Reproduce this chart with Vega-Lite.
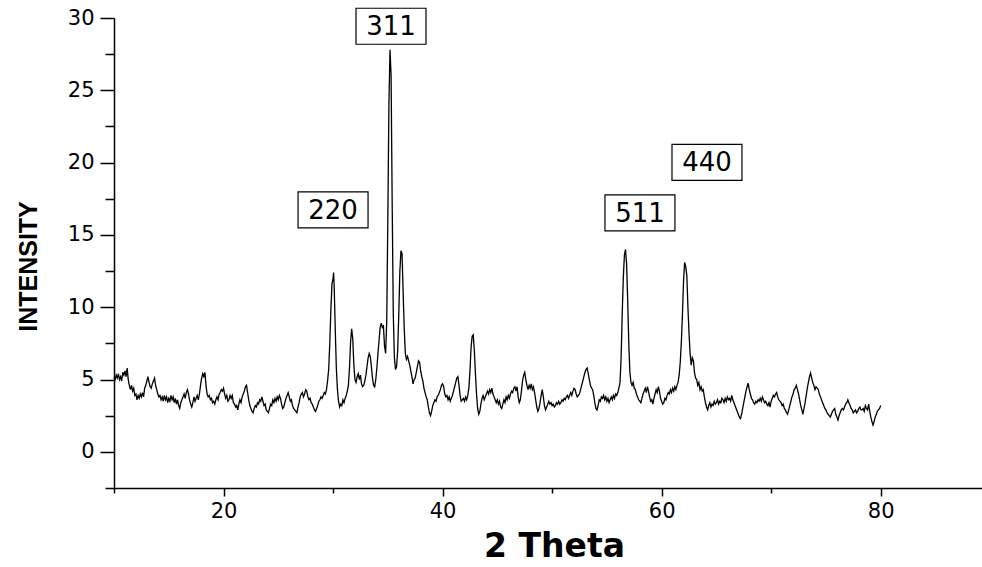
{
"$schema":"https://vega.github.io/schema/vega-lite/v6.json",
"width":868,"height":470,
"autosize":{"type":"none"},
"padding":{"left":114,"top":18,"right":0,"bottom":79},
"background":"white",
"config":{"view":{"stroke":null}},
"datasets":{
"peaks":[{"t":35.29,"i":29.43,"label":"311"},{"t":30.0,"i":16.73,"label":"220"},{"t":58.02,"i":16.52,"label":"511"},{"t":64.14,"i":20.02,"label":"440"}],
"xrd":[
{"t":10.0,"i":5.2},{"t":10.1,"i":5.0},{"t":10.2,"i":5.3},{"t":10.3,"i":5.1},{"t":10.4,"i":5.4},{"t":10.5,"i":5.0},{"t":10.6,"i":5.2},{"t":10.7,"i":4.9},{"t":10.8,"i":5.5},{"t":10.9,"i":5.3},
{"t":11.0,"i":5.6},{"t":11.1,"i":5.2},{"t":11.2,"i":5.8},{"t":11.3,"i":5.0},{"t":11.4,"i":4.6},{"t":11.5,"i":4.3},{"t":11.6,"i":4.6},{"t":11.7,"i":4.2},{"t":11.8,"i":4.4},{"t":11.9,"i":3.9},
{"t":12.0,"i":4.0},{"t":12.1,"i":3.6},{"t":12.2,"i":3.9},{"t":12.3,"i":3.7},{"t":12.4,"i":4.0},{"t":12.5,"i":3.8},{"t":12.6,"i":4.1},{"t":12.7,"i":3.8},{"t":12.8,"i":4.4},{"t":12.9,"i":4.6},
{"t":13.0,"i":4.9},{"t":13.1,"i":5.2},{"t":13.2,"i":4.8},{"t":13.3,"i":4.5},{"t":13.4,"i":4.4},{"t":13.5,"i":4.7},{"t":13.6,"i":4.9},{"t":13.7,"i":5.1},{"t":13.8,"i":4.6},{"t":13.9,"i":4.3},
{"t":14.0,"i":4.0},{"t":14.1,"i":3.8},{"t":14.2,"i":3.9},{"t":14.3,"i":3.6},{"t":14.4,"i":3.8},{"t":14.5,"i":3.5},{"t":14.6,"i":3.9},{"t":14.7,"i":3.6},{"t":14.8,"i":3.8},{"t":14.9,"i":3.4},
{"t":15.0,"i":3.7},{"t":15.1,"i":3.5},{"t":15.2,"i":3.9},{"t":15.3,"i":3.6},{"t":15.4,"i":3.8},{"t":15.5,"i":3.4},{"t":15.6,"i":3.7},{"t":15.7,"i":3.3},{"t":15.8,"i":3.6},{"t":15.9,"i":3.2},
{"t":16.0,"i":3.0},{"t":16.1,"i":3.4},{"t":16.2,"i":3.6},{"t":16.3,"i":3.8},{"t":16.4,"i":4.0},{"t":16.5,"i":3.7},{"t":16.6,"i":4.1},{"t":16.7,"i":4.3},{"t":16.8,"i":4.0},{"t":16.9,"i":3.6},
{"t":17.0,"i":3.3},{"t":17.1,"i":3.1},{"t":17.2,"i":3.4},{"t":17.3,"i":3.8},{"t":17.4,"i":3.5},{"t":17.5,"i":3.7},{"t":17.6,"i":3.9},{"t":17.7,"i":3.6},{"t":17.8,"i":4.0},{"t":17.9,"i":4.6},
{"t":18.0,"i":5.1},{"t":18.1,"i":5.4},{"t":18.2,"i":5.2},{"t":18.3,"i":5.5},{"t":18.4,"i":4.6},{"t":18.5,"i":4.0},{"t":18.6,"i":3.8},{"t":18.7,"i":3.9},{"t":18.8,"i":3.6},{"t":18.9,"i":3.7},
{"t":19.0,"i":3.4},{"t":19.1,"i":3.5},{"t":19.2,"i":3.3},{"t":19.3,"i":3.6},{"t":19.4,"i":3.8},{"t":19.5,"i":3.6},{"t":19.6,"i":4.0},{"t":19.7,"i":4.1},{"t":19.8,"i":4.3},{"t":19.9,"i":4.2},
{"t":20.0,"i":4.4},{"t":20.1,"i":4.0},{"t":20.2,"i":3.7},{"t":20.3,"i":3.9},{"t":20.4,"i":3.5},{"t":20.5,"i":3.6},{"t":20.6,"i":3.9},{"t":20.7,"i":3.7},{"t":20.8,"i":3.9},{"t":20.9,"i":3.4},
{"t":21.0,"i":3.3},{"t":21.1,"i":3.1},{"t":21.2,"i":3.2},{"t":21.3,"i":2.9},{"t":21.4,"i":3.3},{"t":21.5,"i":3.6},{"t":21.6,"i":3.4},{"t":21.7,"i":3.8},{"t":21.8,"i":4.0},{"t":21.9,"i":4.2},
{"t":22.0,"i":4.5},{"t":22.1,"i":4.6},{"t":22.2,"i":4.1},{"t":22.3,"i":3.6},{"t":22.4,"i":3.2},{"t":22.5,"i":3.0},{"t":22.6,"i":2.8},{"t":22.7,"i":2.7},{"t":22.8,"i":3.0},{"t":22.9,"i":3.2},
{"t":23.0,"i":3.1},{"t":23.1,"i":3.4},{"t":23.2,"i":3.3},{"t":23.3,"i":3.6},{"t":23.4,"i":3.5},{"t":23.5,"i":3.8},{"t":23.6,"i":3.5},{"t":23.7,"i":3.2},{"t":23.8,"i":3.3},{"t":23.9,"i":2.9},
{"t":24.0,"i":2.8},{"t":24.1,"i":2.7},{"t":24.2,"i":3.0},{"t":24.3,"i":3.3},{"t":24.4,"i":3.2},{"t":24.5,"i":3.6},{"t":24.6,"i":3.4},{"t":24.7,"i":3.7},{"t":24.8,"i":3.5},{"t":24.9,"i":3.8},
{"t":25.0,"i":3.6},{"t":25.1,"i":3.9},{"t":25.2,"i":3.7},{"t":25.3,"i":3.3},{"t":25.4,"i":3.0},{"t":25.5,"i":3.1},{"t":25.6,"i":3.4},{"t":25.7,"i":3.7},{"t":25.8,"i":3.9},{"t":25.9,"i":4.1},
{"t":26.0,"i":3.8},{"t":26.1,"i":3.5},{"t":26.2,"i":3.6},{"t":26.3,"i":3.2},{"t":26.4,"i":3.0},{"t":26.5,"i":2.9},{"t":26.6,"i":2.8},{"t":26.7,"i":2.7},{"t":26.8,"i":3.1},{"t":26.9,"i":3.4},
{"t":27.0,"i":3.8},{"t":27.1,"i":4.0},{"t":27.2,"i":4.1},{"t":27.3,"i":3.8},{"t":27.4,"i":4.0},{"t":27.5,"i":4.3},{"t":27.6,"i":4.2},{"t":27.7,"i":3.8},{"t":27.8,"i":3.6},{"t":27.9,"i":3.7},
{"t":28.0,"i":3.4},{"t":28.1,"i":3.3},{"t":28.2,"i":3.1},{"t":28.3,"i":2.9},{"t":28.4,"i":2.8},{"t":28.5,"i":3.0},{"t":28.6,"i":3.2},{"t":28.7,"i":3.5},{"t":28.8,"i":3.6},{"t":28.9,"i":3.8},
{"t":29.0,"i":3.7},{"t":29.1,"i":3.9},{"t":29.2,"i":4.1},{"t":29.3,"i":4.0},{"t":29.4,"i":4.3},{"t":29.5,"i":4.9},{"t":29.6,"i":5.7},{"t":29.7,"i":7.5},{"t":29.8,"i":9.8},{"t":29.9,"i":11.6},
{"t":30.0,"i":12.0},{"t":30.05,"i":12.4},{"t":30.1,"i":11.5},{"t":30.2,"i":8.5},{"t":30.3,"i":5.8},{"t":30.4,"i":4.3},{"t":30.5,"i":3.5},{"t":30.6,"i":3.1},{"t":30.7,"i":3.3},{"t":30.8,"i":3.2},{"t":30.9,"i":3.6},
{"t":31.0,"i":3.4},{"t":31.1,"i":3.7},{"t":31.2,"i":3.9},{"t":31.3,"i":4.2},{"t":31.4,"i":4.6},{"t":31.5,"i":5.8},{"t":31.6,"i":7.6},{"t":31.7,"i":8.5},{"t":31.8,"i":7.8},{"t":31.9,"i":6.0},
{"t":32.0,"i":5.0},{"t":32.1,"i":4.8},{"t":32.2,"i":5.2},{"t":32.3,"i":5.4},{"t":32.4,"i":5.0},{"t":32.5,"i":5.3},{"t":32.6,"i":4.7},{"t":32.7,"i":4.5},{"t":32.8,"i":4.6},{"t":32.9,"i":4.9},
{"t":33.0,"i":5.3},{"t":33.1,"i":5.9},{"t":33.2,"i":6.5},{"t":33.3,"i":6.8},{"t":33.4,"i":6.6},{"t":33.5,"i":5.9},{"t":33.6,"i":5.1},{"t":33.7,"i":4.6},{"t":33.8,"i":4.5},{"t":33.9,"i":5.0},
{"t":34.0,"i":5.8},{"t":34.1,"i":6.8},{"t":34.2,"i":7.7},{"t":34.3,"i":8.6},{"t":34.4,"i":8.9},{"t":34.5,"i":8.6},{"t":34.6,"i":8.7},{"t":34.7,"i":7.3},{"t":34.8,"i":6.8},{"t":34.9,"i":9.0},
{"t":35.0,"i":16.0},{"t":35.1,"i":24.0},{"t":35.2,"i":27.8},{"t":35.3,"i":26.0},{"t":35.4,"i":17.0},{"t":35.5,"i":9.5},{"t":35.6,"i":6.5},{"t":35.7,"i":5.7},{"t":35.8,"i":5.9},{"t":35.9,"i":7.0},
{"t":36.0,"i":9.5},{"t":36.1,"i":12.5},{"t":36.2,"i":13.9},{"t":36.3,"i":13.7},{"t":36.4,"i":11.0},{"t":36.5,"i":8.5},{"t":36.6,"i":6.8},{"t":36.7,"i":6.4},{"t":36.8,"i":6.6},{"t":36.9,"i":6.3},
{"t":37.0,"i":6.0},{"t":37.1,"i":5.6},{"t":37.2,"i":5.2},{"t":37.3,"i":4.7},{"t":37.4,"i":5.0},{"t":37.5,"i":5.1},{"t":37.6,"i":5.5},{"t":37.7,"i":5.9},{"t":37.8,"i":6.3},{"t":37.9,"i":6.2},
{"t":38.0,"i":5.6},{"t":38.1,"i":5.2},{"t":38.2,"i":4.9},{"t":38.3,"i":4.4},{"t":38.4,"i":4.1},{"t":38.5,"i":3.8},{"t":38.6,"i":3.6},{"t":38.7,"i":3.1},{"t":38.8,"i":2.7},{"t":38.9,"i":2.5},
{"t":39.0,"i":2.8},{"t":39.1,"i":3.2},{"t":39.2,"i":3.4},{"t":39.3,"i":3.6},{"t":39.4,"i":3.5},{"t":39.5,"i":3.8},{"t":39.6,"i":3.9},{"t":39.7,"i":4.1},{"t":39.8,"i":4.3},{"t":39.9,"i":4.6},
{"t":40.0,"i":4.7},{"t":40.1,"i":4.5},{"t":40.2,"i":4.0},{"t":40.3,"i":3.8},{"t":40.4,"i":3.9},{"t":40.5,"i":3.6},{"t":40.6,"i":3.8},{"t":40.7,"i":3.5},{"t":40.8,"i":3.7},{"t":40.9,"i":3.9},
{"t":41.0,"i":4.2},{"t":41.1,"i":4.5},{"t":41.2,"i":4.8},{"t":41.3,"i":5.1},{"t":41.4,"i":5.2},{"t":41.5,"i":4.6},{"t":41.6,"i":3.9},{"t":41.7,"i":3.5},{"t":41.8,"i":3.6},{"t":41.9,"i":3.7},
{"t":42.0,"i":3.5},{"t":42.1,"i":3.8},{"t":42.2,"i":3.6},{"t":42.3,"i":3.9},{"t":42.4,"i":4.4},{"t":42.5,"i":5.6},{"t":42.6,"i":7.2},{"t":42.7,"i":8.0},{"t":42.8,"i":8.1},{"t":42.9,"i":7.0},
{"t":43.0,"i":5.4},{"t":43.1,"i":4.0},{"t":43.2,"i":3.0},{"t":43.3,"i":2.6},{"t":43.4,"i":2.8},{"t":43.5,"i":3.3},{"t":43.6,"i":3.7},{"t":43.7,"i":3.9},{"t":43.8,"i":3.6},{"t":43.9,"i":3.8},
{"t":44.0,"i":4.0},{"t":44.1,"i":4.2},{"t":44.2,"i":4.0},{"t":44.3,"i":4.3},{"t":44.4,"i":4.1},{"t":44.5,"i":4.4},{"t":44.6,"i":4.0},{"t":44.7,"i":3.8},{"t":44.8,"i":3.6},{"t":44.9,"i":3.4},
{"t":45.0,"i":3.6},{"t":45.1,"i":3.3},{"t":45.2,"i":3.5},{"t":45.3,"i":3.1},{"t":45.4,"i":3.0},{"t":45.5,"i":3.3},{"t":45.6,"i":3.6},{"t":45.7,"i":3.4},{"t":45.8,"i":3.8},{"t":45.9,"i":3.6},
{"t":46.0,"i":3.9},{"t":46.1,"i":3.7},{"t":46.2,"i":4.0},{"t":46.3,"i":4.2},{"t":46.4,"i":4.1},{"t":46.5,"i":4.4},{"t":46.6,"i":4.5},{"t":46.7,"i":4.2},{"t":46.8,"i":4.5},{"t":46.9,"i":3.8},
{"t":47.0,"i":3.4},{"t":47.1,"i":3.6},{"t":47.2,"i":4.2},{"t":47.3,"i":4.9},{"t":47.4,"i":5.3},{"t":47.5,"i":5.5},{"t":47.6,"i":5.0},{"t":47.7,"i":4.6},{"t":47.8,"i":4.3},{"t":47.9,"i":4.6},
{"t":48.0,"i":4.4},{"t":48.1,"i":4.7},{"t":48.2,"i":4.3},{"t":48.3,"i":4.5},{"t":48.4,"i":4.1},{"t":48.5,"i":3.6},{"t":48.6,"i":3.1},{"t":48.7,"i":2.8},{"t":48.8,"i":3.0},{"t":48.9,"i":3.4},
{"t":49.0,"i":3.9},{"t":49.1,"i":4.3},{"t":49.2,"i":3.8},{"t":49.3,"i":3.2},{"t":49.4,"i":2.9},{"t":49.5,"i":3.1},{"t":49.6,"i":3.3},{"t":49.7,"i":3.5},{"t":49.8,"i":3.3},{"t":49.9,"i":3.4},
{"t":50.0,"i":3.2},{"t":50.1,"i":3.3},{"t":50.2,"i":3.1},{"t":50.3,"i":3.2},{"t":50.4,"i":3.4},{"t":50.5,"i":3.3},{"t":50.6,"i":3.5},{"t":50.7,"i":3.3},{"t":50.8,"i":3.4},{"t":50.9,"i":3.6},
{"t":51.0,"i":3.5},{"t":51.1,"i":3.7},{"t":51.2,"i":3.6},{"t":51.3,"i":3.8},{"t":51.4,"i":3.9},{"t":51.5,"i":3.7},{"t":51.6,"i":3.9},{"t":51.7,"i":4.1},{"t":51.8,"i":3.9},{"t":51.9,"i":4.2},
{"t":52.0,"i":4.4},{"t":52.1,"i":4.3},{"t":52.2,"i":4.0},{"t":52.3,"i":3.8},{"t":52.4,"i":3.9},{"t":52.5,"i":4.0},{"t":52.6,"i":4.3},{"t":52.7,"i":4.6},{"t":52.8,"i":4.9},{"t":52.9,"i":5.2},
{"t":53.0,"i":5.5},{"t":53.1,"i":5.7},{"t":53.2,"i":5.8},{"t":53.3,"i":5.4},{"t":53.4,"i":5.0},{"t":53.5,"i":4.6},{"t":53.6,"i":4.4},{"t":53.7,"i":4.3},{"t":53.8,"i":3.9},{"t":53.9,"i":3.4},
{"t":54.0,"i":3.0},{"t":54.1,"i":2.9},{"t":54.2,"i":3.2},{"t":54.3,"i":3.6},{"t":54.4,"i":3.5},{"t":54.5,"i":3.8},{"t":54.6,"i":3.7},{"t":54.7,"i":3.9},{"t":54.8,"i":3.6},{"t":54.9,"i":3.8},
{"t":55.0,"i":3.5},{"t":55.1,"i":3.7},{"t":55.2,"i":3.4},{"t":55.3,"i":3.6},{"t":55.4,"i":3.8},{"t":55.5,"i":3.6},{"t":55.6,"i":3.9},{"t":55.7,"i":3.7},{"t":55.8,"i":4.0},{"t":55.9,"i":3.9},
{"t":56.0,"i":4.1},{"t":56.1,"i":4.4},{"t":56.2,"i":4.8},{"t":56.3,"i":6.5},{"t":56.4,"i":9.5},{"t":56.5,"i":12.0},{"t":56.6,"i":13.6},{"t":56.7,"i":14.0},{"t":56.8,"i":13.0},{"t":56.9,"i":10.5},
{"t":57.0,"i":7.5},{"t":57.1,"i":5.5},{"t":57.2,"i":4.8},{"t":57.3,"i":4.6},{"t":57.4,"i":4.8},{"t":57.5,"i":4.4},{"t":57.6,"i":4.3},{"t":57.7,"i":4.0},{"t":57.8,"i":3.8},{"t":57.9,"i":3.6},
{"t":58.0,"i":3.5},{"t":58.1,"i":3.4},{"t":58.2,"i":3.7},{"t":58.3,"i":4.0},{"t":58.4,"i":4.2},{"t":58.5,"i":4.4},{"t":58.6,"i":4.1},{"t":58.7,"i":4.5},{"t":58.8,"i":4.2},{"t":58.9,"i":3.8},
{"t":59.0,"i":3.5},{"t":59.1,"i":3.6},{"t":59.2,"i":3.3},{"t":59.3,"i":3.7},{"t":59.4,"i":4.0},{"t":59.5,"i":4.3},{"t":59.6,"i":4.1},{"t":59.7,"i":4.5},{"t":59.8,"i":4.2},{"t":59.9,"i":3.7},
{"t":60.0,"i":3.5},{"t":60.1,"i":3.3},{"t":60.2,"i":3.4},{"t":60.3,"i":3.7},{"t":60.4,"i":3.6},{"t":60.5,"i":3.9},{"t":60.6,"i":4.1},{"t":60.7,"i":4.0},{"t":60.8,"i":4.3},{"t":60.9,"i":4.1},
{"t":61.0,"i":4.4},{"t":61.1,"i":4.2},{"t":61.2,"i":4.5},{"t":61.3,"i":4.3},{"t":61.4,"i":4.6},{"t":61.5,"i":4.8},{"t":61.6,"i":5.3},{"t":61.7,"i":6.2},{"t":61.8,"i":7.6},{"t":61.9,"i":9.5},
{"t":62.0,"i":11.8},{"t":62.1,"i":13.1},{"t":62.2,"i":12.8},{"t":62.3,"i":12.2},{"t":62.4,"i":10.0},{"t":62.5,"i":8.2},{"t":62.6,"i":6.8},{"t":62.7,"i":6.0},{"t":62.8,"i":6.5},{"t":62.9,"i":6.3},
{"t":63.0,"i":5.5},{"t":63.1,"i":5.1},{"t":63.2,"i":5.0},{"t":63.3,"i":4.6},{"t":63.4,"i":4.8},{"t":63.5,"i":4.3},{"t":63.6,"i":4.5},{"t":63.7,"i":4.2},{"t":63.8,"i":4.3},{"t":63.9,"i":3.8},
{"t":64.0,"i":3.4},{"t":64.1,"i":3.1},{"t":64.2,"i":2.9},{"t":64.3,"i":3.2},{"t":64.4,"i":3.4},{"t":64.5,"i":3.1},{"t":64.6,"i":3.3},{"t":64.7,"i":3.2},{"t":64.8,"i":3.5},{"t":64.9,"i":3.3},
{"t":65.0,"i":3.4},{"t":65.1,"i":3.6},{"t":65.2,"i":3.3},{"t":65.3,"i":3.5},{"t":65.4,"i":3.4},{"t":65.5,"i":3.7},{"t":65.6,"i":3.6},{"t":65.7,"i":3.4},{"t":65.8,"i":3.7},{"t":65.9,"i":3.5},
{"t":66.0,"i":3.8},{"t":66.1,"i":3.6},{"t":66.2,"i":3.7},{"t":66.3,"i":3.5},{"t":66.4,"i":3.9},{"t":66.5,"i":3.6},{"t":66.6,"i":3.4},{"t":66.7,"i":3.2},{"t":66.8,"i":3.0},{"t":66.9,"i":2.8},
{"t":67.0,"i":2.6},{"t":67.1,"i":2.4},{"t":67.2,"i":2.3},{"t":67.3,"i":2.6},{"t":67.4,"i":3.0},{"t":67.5,"i":3.4},{"t":67.6,"i":3.8},{"t":67.7,"i":4.2},{"t":67.8,"i":4.5},{"t":67.9,"i":4.75},
{"t":68.0,"i":4.3},{"t":68.1,"i":4.0},{"t":68.2,"i":3.7},{"t":68.3,"i":3.6},{"t":68.4,"i":3.4},{"t":68.5,"i":3.3},{"t":68.6,"i":3.5},{"t":68.7,"i":3.4},{"t":68.8,"i":3.6},{"t":68.9,"i":3.5},
{"t":69.0,"i":3.7},{"t":69.1,"i":3.5},{"t":69.2,"i":3.8},{"t":69.3,"i":3.6},{"t":69.4,"i":3.4},{"t":69.5,"i":3.5},{"t":69.6,"i":3.3},{"t":69.7,"i":3.2},{"t":69.8,"i":3.4},{"t":69.9,"i":3.1},
{"t":70.0,"i":3.5},{"t":70.1,"i":3.7},{"t":70.2,"i":3.9},{"t":70.3,"i":3.8},{"t":70.4,"i":4.0},{"t":70.5,"i":4.1},{"t":70.6,"i":3.8},{"t":70.7,"i":3.6},{"t":70.8,"i":3.5},{"t":70.9,"i":3.4},
{"t":71.0,"i":3.2},{"t":71.1,"i":3.3},{"t":71.2,"i":3.0},{"t":71.3,"i":2.9},{"t":71.4,"i":2.7},{"t":71.5,"i":2.6},{"t":71.6,"i":2.9},{"t":71.7,"i":3.2},{"t":71.8,"i":3.5},{"t":71.9,"i":3.8},
{"t":72.0,"i":4.0},{"t":72.1,"i":4.3},{"t":72.2,"i":4.4},{"t":72.3,"i":4.6},{"t":72.4,"i":4.3},{"t":72.5,"i":4.0},{"t":72.6,"i":3.6},{"t":72.7,"i":3.2},{"t":72.8,"i":2.9},{"t":72.9,"i":2.6},
{"t":73.0,"i":3.0},{"t":73.1,"i":3.4},{"t":73.2,"i":3.9},{"t":73.3,"i":4.4},{"t":73.4,"i":4.8},{"t":73.5,"i":5.2},{"t":73.6,"i":5.45},{"t":73.7,"i":5.1},{"t":73.8,"i":4.8},{"t":73.9,"i":4.6},
{"t":74.0,"i":4.3},{"t":74.1,"i":4.5},{"t":74.2,"i":4.4},{"t":74.3,"i":4.3},{"t":74.4,"i":4.0},{"t":74.5,"i":3.8},{"t":74.6,"i":3.6},{"t":74.7,"i":3.4},{"t":74.8,"i":3.2},{"t":74.9,"i":3.0},
{"t":75.0,"i":2.9},{"t":75.1,"i":2.7},{"t":75.2,"i":2.6},{"t":75.3,"i":2.5},{"t":75.4,"i":2.4},{"t":75.5,"i":2.6},{"t":75.6,"i":2.8},{"t":75.7,"i":2.9},{"t":75.8,"i":3.0},{"t":75.9,"i":2.6},
{"t":76.0,"i":2.4},{"t":76.1,"i":2.2},{"t":76.2,"i":2.5},{"t":76.3,"i":2.7},{"t":76.4,"i":2.9},{"t":76.5,"i":3.0},{"t":76.6,"i":2.9},{"t":76.7,"i":3.1},{"t":76.8,"i":3.3},{"t":76.9,"i":3.4},
{"t":77.0,"i":3.6},{"t":77.1,"i":3.4},{"t":77.2,"i":3.2},{"t":77.3,"i":3.0},{"t":77.4,"i":2.9},{"t":77.5,"i":2.7},{"t":77.6,"i":2.8},{"t":77.7,"i":2.9},{"t":77.8,"i":2.7},{"t":77.9,"i":2.8},
{"t":78.0,"i":3.0},{"t":78.1,"i":3.1},{"t":78.2,"i":2.9},{"t":78.3,"i":2.9},{"t":78.4,"i":3.0},{"t":78.5,"i":2.8},{"t":78.6,"i":3.2},{"t":78.7,"i":3.0},{"t":78.8,"i":2.9},{"t":78.9,"i":3.3},
{"t":79.0,"i":2.8},{"t":79.1,"i":2.4},{"t":79.2,"i":2.1},{"t":79.3,"i":1.85},{"t":79.4,"i":2.1},{"t":79.5,"i":2.4},{"t":79.6,"i":2.6},{"t":79.7,"i":2.8},{"t":79.8,"i":2.9},{"t":79.9,"i":3.0},
{"t":80.0,"i":3.2}
]},
"encoding":{
"x":{"field":"t","type":"quantitative",
 "scale":{"domain":[10,89.25],"nice":false,"zero":false},
 "axis":{"title":"2 Theta","values":[10,20,30,40,50,60,70,80],
  "labelExpr":"datum.value % 20 === 0 ? datum.label : ''",
  "tickSize":{"condition":{"test":"datum.value % 20 === 0","value":8},"value":5},
  "grid":false,"labelFont":"DejaVu Sans","labelFontSize":21,"labelPadding":4,"labelColor":"black",
  "domainColor":"black","tickColor":"black","domainWidth":1.5,"tickWidth":1.5,
  "titleFont":"DejaVu Sans","titleFontSize":33,"titleFontWeight":"bold","titleColor":"black",
  "titleX":440,"titleY":68,"titleBaseline":"alphabetic","titleAlign":"center",
  "labelOverlap":false,"labelFlush":false}},
"y":{"field":"i","type":"quantitative",
 "scale":{"domain":[-2.5,30],"nice":false,"zero":false},
 "axis":{"title":"INTENSITY","values":[-2.5,0,2.5,5,7.5,10,12.5,15,17.5,20,22.5,25,27.5,30],
  "labelExpr":"datum.value % 5 === 0 ? datum.label : ''",
  "tickSize":{"condition":{"test":"datum.value % 5 === 0","value":14},"value":9},
  "grid":false,"labelFont":"DejaVu Sans","labelFontSize":21,"labelPadding":6,"labelColor":"black",
  "domainColor":"black","tickColor":"black","domainWidth":1.5,"tickWidth":1.5,
  "titleFont":"Liberation Sans","titleFontSize":25,"titleFontWeight":"bold","titleColor":"black",
  "titleAngle":-90,"titleX":-78,"titleY":248,"titleBaseline":"alphabetic","titleAlign":"center",
  "labelOverlap":false,"labelFlush":false}}
},
"layer":[
 {"data":{"name":"xrd"},"mark":{"type":"line","color":"black","strokeWidth":1.3}},
 {"data":{"name":"peaks"},"mark":{"type":"point","shape":"M-1.944,-1H1.944V1H-1.944Z","size":1296,"filled":true,"fill":"white","stroke":"black","strokeWidth":1.2,"opacity":1}},
 {"data":{"name":"peaks"},"mark":{"type":"text","font":"DejaVu Sans","fontSize":26,"baseline":"middle","align":"center","color":"black","dy":1},
  "encoding":{"text":{"field":"label"}}}
]
}
